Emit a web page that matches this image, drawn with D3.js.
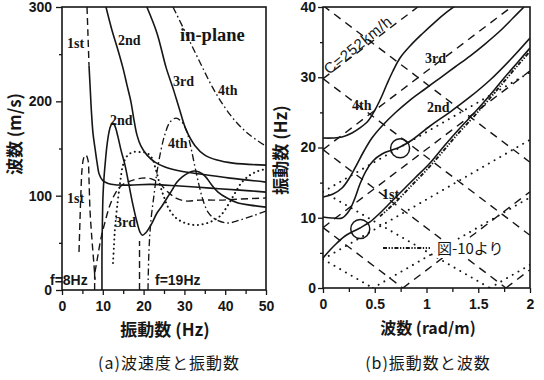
<!DOCTYPE html>
<html><head><meta charset="utf-8">
<script src="https://cdn.jsdelivr.net/npm/d3@7/dist/d3.min.js"></script>
<style>
html,body{margin:0;padding:0;background:#fff;}
svg{display:block;}
</style></head>
<body>
<svg id="chart" width="544" height="380" xmlns="http://www.w3.org/2000/svg"></svg>
<script>
// ================= DATA =================
// ---- Panel (a): velocity (m/s) vs frequency (Hz) ----
const aXTicks = [0,10,20,30,40,50];
const aXMinor = [5,15,25,35,45];
const aYTicks = [0,100,200,300];
const aYMinor = [50,150,250];

// phase-velocity curves [f, v]
const phase1Top = [[6.13,300],[6.37,270],[6.62,238]];
const phase1 = [[6.62,238],[6.9,215],[7.2,190],[7.6,166],[8.1,150],[8.6,135],[9.1,123],[10,116],[11.3,113],[13,111.5],[16.7,111.2],[21.6,112],[28.9,110.2],[36.3,108],[43.6,105.9],[50,103.8]];
const phase2 = [[10.78,300],[12.25,275.4],[13.73,254.2],[14.95,235.2],[15.93,217.2],[16.91,199.2],[17.65,180.1],[18.38,164.2],[19.36,152.5],[20.83,143],[22.79,135.6],[25.25,130.3],[28.92,126.1],[33.82,122.9],[41.18,118.6],[50,114.4]];
const phase3 = [[20.8,300],[23.3,272],[25.5,236],[27.2,214],[28.7,193],[30.4,170],[32.6,153],[35,143],[38,137.7],[41.9,134.5],[50,132.4]];
const phase4 = [[27.2,300],[30.6,270],[33.8,241.5],[37.0,214],[40.0,193],[42.9,177],[46.1,164],[50,152.5]];

// group-velocity curves [f, v]
const group1a = [[4.17,40.3],[4.41,74.2],[4.66,105.9],[4.9,127.1],[5.39,140.9],[5.88,143],[6.37,137.7],[6.62,116.5],[6.86,84.7],[7.35,53],[7.84,26.5],[8.09,10.6]];
const group1b = [[8.09,19.1],[8.82,37.1],[9.56,55.1],[10.54,72],[11.76,90],[13.24,103.8],[14.71,111.2],[16.67,115.5],[19.61,118.6],[22.06,117.6],[24.02,112.3],[25.98,103.8],[27.94,97.5],[30.39,94.3],[33.82,95.3],[38.73,95.3],[43.63,96.4],[50,97.5]];
const group2 = [[9.8,0],[9.8,42],[9.93,79],[10.05,100],[10.29,118.6],[10.66,137.7],[11.03,153.6],[11.52,167.4],[12.01,174.8],[12.5,176.9],[12.99,173.7],[13.73,162.1],[14.46,148.3],[15.44,132.4],[16.42,111.2],[17.4,90],[18.38,72],[19.12,61.4],[19.7,58],[20.5,60.5],[22.06,71],[23.28,81.6],[24.51,89],[25.74,97.5],[26.96,105.9],[28.19,114.4],[29.41,119.7],[30.88,123.9],[32.35,126.1],[33.58,125],[35.05,120.8],[36.52,112.3],[38.24,103.8],[40.44,97.5],[43.14,92.2],[46.08,90],[50,87.9]];
const group3 = [[12.5,28.6],[12.75,47.7],[12.99,65.7],[13.48,86.9],[14.22,113.3],[14.95,132.4],[15.93,141.9],[17.4,146.2],[19.12,146.2],[20.83,145.1],[22.06,139.8],[23.04,127.1],[24.02,111.2],[25,98.5],[25.98,87.9],[27.7,77.3],[30.15,71],[33.09,68.9],[36.27,72],[38.73,78.4],[40.69,90],[42.4,102.8],[44.12,114.4],[46.08,121.8],[48.04,126.1],[50,128.2]];
const group4 = [[21.08,0],[21.32,42.4],[21.81,74.2],[22.55,100.6],[23.28,125],[24.26,148.3],[25.25,165.3],[26.47,178],[27.94,182.2],[29.41,178],[30.64,167.4],[31.62,150.4],[32.6,130.3],[33.58,111.2],[34.56,95.3],[35.78,82.6],[37.5,75.2],[40.44,71],[43.63,74.2],[47.3,79.4],[50,83.7]];
const markerF8 = [[8,0],[8,22]];
const markerF19 = [[19,0],[19,52]];

// ---- Panel (b): frequency (Hz) vs wavenumber (rad/m) ----
const bXTicks = [0,0.5,1,1.5,2];
const bXLabels = ["0","0.5","1","1.5","2"];
const bXMinor = [0.25,0.75,1.25,1.75];
const bYTicks = [0,10,20,30,40];
const bYMinor = [5,15,25,35];

const mode1B = [[0,4.27],[0.068,5.41],[0.135,6.41],[0.213,7.4],[0.28,7.97],[0.357,8.54],[0.454,9.4],[0.551,10.68],[0.657,12.24],[0.773,13.95],[0.889,15.66],[1.034,17.79],[1.179,20.36],[1.324,22.78],[1.469,25.05],[1.614,27.47],[1.758,30.04],[1.884,32.17],[2.0,34.16]];
const mode2B = [[0,10.11],[0.097,9.96],[0.184,9.96],[0.251,10.96],[0.309,12.81],[0.357,14.8],[0.415,16.65],[0.483,18.08],[0.57,19.07],[0.667,19.64],[0.744,20.07],[0.86,21.07],[1.034,23.06],[1.227,25.05],[1.42,27.19],[1.614,29.61],[1.807,32.46],[2.0,35.59]];
const mode3B = [[0,12.95],[0.097,13.38],[0.184,14.23],[0.261,15.8],[0.329,17.65],[0.396,19.5],[0.473,21.35],[0.57,23.06],[0.696,24.91],[0.841,26.76],[0.986,28.33],[1.13,29.89],[1.275,31.46],[1.42,33.02],[1.565,34.73],[1.71,36.58],[1.836,38.43],[1.942,40.0]];
const mode4B = [[0,21.35],[0.097,21.35],[0.184,21.49],[0.28,22.06],[0.357,22.78],[0.435,23.77],[0.502,25.34],[0.56,27.05],[0.618,29.04],[0.676,30.89],[0.744,32.74],[0.841,34.45],[0.957,36.16],[1.082,37.86],[1.198,39.29],[1.275,40.14]];
const fig10B = [[0.55,10.2],[0.7,12.2],[0.85,14.5],[1.0,16.8],[1.15,19.3],[1.3,21.9],[1.45,24.3],[1.6,26.8],[1.75,29.4],[1.9,32.0],[2.0,33.7]];
// straight dashed lines (C = 252 km/h) as [[k1,f1],[k2,f2]]
const dashLinesB = [
  [[0,8.6],[2,30.9]], [[0,8.6],[0.772,0]], [[0.772,0],[2,13.7]],
  [[0,19.7],[1.82,40]], [[0,19.7],[1.768,0]], [[1.768,0],[2,2.6]],
  [[0,29.8],[0.916,40]], [[0,29.8],[2,7.5]], [[0,40.2],[2,17.9]]
];
// straight dotted lines
const dotLinesB = [
  [[0,4.1],[0.482,0]], [[0,4.1],[2,21.1]], [[0.482,0],[2,12.9]],
  [[0,13.7],[2,30.7]], [[0,13.7],[1.612,0]], [[1.612,0],[2,3.3]]
];
const circlesB = [[0.36,8.4],[0.745,19.9]];

// ================= DRAWING =================
const ink = '#161616';
const svg = d3.select('#chart');
svg.append('rect').attr('width',544).attr('height',380).attr('fill','#fff');

const xA = d3.scaleLinear().domain([0,50]).range([62,266]);
const yA = d3.scaleLinear().domain([0,300]).range([290,7]);
const xB = d3.scaleLinear().domain([0,2]).range([323,530]);
const yB = d3.scaleLinear().domain([0,40]).range([288,7]);

const defs = svg.append('defs');
defs.append('clipPath').attr('id','clipA').append('rect')
  .attr('x',xA(0)).attr('y',yA(300)).attr('width',xA(50)-xA(0)).attr('height',yA(0)-yA(300));
defs.append('clipPath').attr('id','clipB').append('rect')
  .attr('x',xB(0)).attr('y',yB(40)).attr('width',xB(2)-xB(0)).attr('height',yB(0)-yB(40));

const STY = {
  solid:   {w:1.6, dash:null, cap:'butt'},
  dashed:  {w:1.4, dash:'7,4', cap:'butt'},
  dotted:  {w:2.0, dash:'0.1,4.6', cap:'round'},
  dashdot: {w:1.35, dash:'7,3,1.6,3', cap:'butt'},
  bdash:   {w:1.4, dash:'8,6', cap:'butt'},
  bdot:    {w:1.9, dash:'0.1,6.5', cap:'round'},
  fig10:   {w:1.9, dash:'4,1.6,1.3,1.6,1.3,1.6', cap:'butt'}
};

function draw(g, data, xs, ys, st, curved=true){
  const line = d3.line().x(d=>xs(d[0])).y(d=>ys(d[1]));
  if(curved) line.curve(d3.curveCatmullRom.alpha(0.5));
  const s = STY[st];
  const p = g.append('path').attr('d', line(data)).attr('fill','none')
    .attr('stroke', ink).attr('stroke-width', s.w).attr('stroke-linecap', s.cap)
    .attr('stroke-linejoin','round');
  if(s.dash) p.attr('stroke-dasharray', s.dash);
  return p;
}

const tickFont = "'Liberation Sans Narrow','Liberation Sans',Arial,sans-serif";
const serifFont = "'Liberation Serif','DejaVu Serif',serif";
const cjkFont = "'Noto Sans CJK JP','Noto Sans CJK SC',sans-serif";

function styleAxis(g){
  g.select('.domain').remove();
  g.selectAll('line').attr('stroke',ink).attr('stroke-width',1.3);
  g.selectAll('text').attr('fill',ink).attr('font-family',tickFont)
    .attr('font-weight','bold').attr('font-size',14);
}

// ----- Panel (a) -----
const gA = svg.append('g');
gA.append('g').attr('transform',`translate(0,${yA(0)})`)
  .call(d3.axisBottom(xA).tickValues(aXTicks).tickSize(5).tickPadding(6)).call(styleAxis);
gA.append('g').attr('transform',`translate(0,${yA(0)})`)
  .call(d3.axisBottom(xA).tickValues(aXMinor).tickSize(4).tickFormat('')).call(styleAxis);
gA.append('g').attr('transform',`translate(${xA(0)},0)`)
  .call(d3.axisLeft(yA).tickValues(aYTicks).tickSize(6).tickPadding(4)).call(styleAxis);
gA.append('g').attr('transform',`translate(${xA(0)},0)`)
  .call(d3.axisLeft(yA).tickValues(aYMinor).tickSize(3).tickFormat('')).call(styleAxis);

const cA = gA.append('g').attr('clip-path','url(#clipA)');
draw(cA, phase1Top, xA, yA, 'dashed');
draw(cA, phase1, xA, yA, 'solid');
draw(cA, phase2, xA, yA, 'solid');
draw(cA, phase3, xA, yA, 'solid');
draw(cA, phase4, xA, yA, 'dashdot');
draw(cA, group1a, xA, yA, 'dashed');
draw(cA, group1b, xA, yA, 'dashed');
draw(cA, group2, xA, yA, 'solid');
draw(cA, group3, xA, yA, 'dotted');
draw(cA, group4, xA, yA, 'dashdot');
draw(cA, markerF8, xA, yA, 'dashed', false);
draw(cA, markerF19, xA, yA, 'dashed', false);

gA.append('rect').attr('x',xA(0)).attr('y',yA(300)).attr('width',xA(50)-xA(0)).attr('height',yA(0)-yA(300))
  .attr('fill','none').attr('stroke',ink).attr('stroke-width',1.6);

const labelsA = [
  {t:'1st', x:67, y:48}, {t:'2nd', x:118, y:45}, {t:'3rd', x:173, y:86}, {t:'4th', x:218, y:95},
  {t:'2nd', x:110, y:125}, {t:'4th', x:168, y:148}, {t:'1st', x:67, y:203}, {t:'3rd', x:115, y:227}
];
gA.selectAll('text.lab').data(labelsA).join('text').attr('class','lab')
  .attr('x',d=>d.x).attr('y',d=>d.y).text(d=>d.t)
  .attr('font-family',serifFont).attr('font-weight','bold').attr('font-size',14).attr('fill',ink);
gA.append('text').attr('x',180).attr('y',41).text('in-plane')
  .attr('font-family',serifFont).attr('font-weight','bold').attr('font-size',18.5).attr('fill',ink);
gA.append('text').attr('x',50).attr('y',285).text('f=8Hz')
  .attr('font-family',tickFont).attr('font-weight','bold').attr('font-size',14).attr('fill',ink);
gA.append('text').attr('x',155).attr('y',285).text('f=19Hz')
  .attr('font-family',tickFont).attr('font-weight','bold').attr('font-size',14).attr('fill',ink);

// axis titles (a)
gA.append('text').attr('x',165).attr('y',336).attr('text-anchor','middle')
  .attr('font-family',cjkFont).attr('font-weight','bold').attr('font-size',17).attr('fill',ink)
  .text('振動数 (Hz)');
gA.append('text').attr('transform','translate(21,134) rotate(-90)').attr('text-anchor','middle')
  .attr('font-family',cjkFont).attr('font-weight','bold').attr('font-size',17).attr('fill',ink)
  .text('波数 (m/s)');
gA.append('text').attr('x',169).attr('y',369).attr('text-anchor','middle')
  .attr('font-family',cjkFont).attr('font-size',16).attr('letter-spacing',1).attr('fill',ink)
  .text('(a)波速度と振動数');

// ----- Panel (b) -----
const gB = svg.append('g');
gB.append('g').attr('transform',`translate(0,${yB(0)})`)
  .call(d3.axisBottom(xB).tickValues(bXTicks).tickSize(5).tickPadding(6).tickFormat((d,i)=>bXLabels[i])).call(styleAxis);
gB.append('g').attr('transform',`translate(0,${yB(0)})`)
  .call(d3.axisBottom(xB).tickValues(bXMinor).tickSize(4).tickFormat('')).call(styleAxis);
gB.append('g').attr('transform',`translate(${xB(0)},0)`)
  .call(d3.axisLeft(yB).tickValues(bYTicks).tickSize(5).tickPadding(2)).call(styleAxis);
gB.append('g').attr('transform',`translate(${xB(0)},0)`)
  .call(d3.axisLeft(yB).tickValues(bYMinor).tickSize(3).tickFormat('')).call(styleAxis);

const cB = gB.append('g').attr('clip-path','url(#clipB)');
dotLinesB.forEach(s=>draw(cB, s, xB, yB, 'bdot', false));
dashLinesB.forEach(s=>draw(cB, s, xB, yB, 'bdash', false));
draw(cB, fig10B, xB, yB, 'fig10');
draw(cB, mode1B, xB, yB, 'solid');
draw(cB, mode2B, xB, yB, 'solid');
draw(cB, mode3B, xB, yB, 'solid');
draw(cB, mode4B, xB, yB, 'solid');
cB.selectAll('circle.mk').data(circlesB).join('circle').attr('class','mk')
  .attr('cx',d=>xB(d[0])).attr('cy',d=>yB(d[1])).attr('r',9.5)
  .attr('fill','none').attr('stroke',ink).attr('stroke-width',1.5);

gB.append('rect').attr('x',xB(0)).attr('y',yB(40)).attr('width',xB(2)-xB(0)).attr('height',yB(0)-yB(40))
  .attr('fill','none').attr('stroke',ink).attr('stroke-width',1.6);

const labelsB = [
  {t:'3rd', x:425, y:63}, {t:'4th', x:352, y:110}, {t:'2nd', x:427, y:112}, {t:'1st', x:382, y:199}
];
gB.selectAll('text.lab').data(labelsB).join('text').attr('class','lab')
  .attr('x',d=>d.x).attr('y',d=>d.y).text(d=>d.t)
  .attr('font-family',serifFont).attr('font-weight','bold').attr('font-size',14).attr('fill',ink);
gB.append('text').attr('transform','translate(329,75) rotate(-39)')
  .attr('font-family',"'Liberation Sans',Arial,sans-serif").attr('font-size',15).attr('letter-spacing',0.6).attr('fill',ink)
  .text('C=252km/h');

// legend (white backing so the sample text stays readable)
gB.append('rect').attr('x',435).attr('y',240).attr('width',68).attr('height',18).attr('fill','#fff');
gB.append('line').attr('x1',383).attr('x2',430).attr('y1',248).attr('y2',248)
  .attr('stroke',ink).attr('stroke-width',1.9).attr('stroke-dasharray',STY.fig10.dash);
gB.append('text').attr('x',437).attr('y',254).text('図-10より')
  .attr('font-family',cjkFont).attr('font-size',15).attr('fill',ink);

// axis titles (b)
gB.append('text').attr('x',428).attr('y',334).attr('text-anchor','middle')
  .attr('font-family',cjkFont).attr('font-weight','bold').attr('font-size',16).attr('fill',ink)
  .text('波数 (rad/m)');
gB.append('text').attr('transform','translate(287,150) rotate(-90)').attr('text-anchor','middle')
  .attr('font-family',cjkFont).attr('font-weight','bold').attr('font-size',17).attr('fill',ink)
  .text('振動数 (Hz)');
gB.append('text').attr('x',428).attr('y',369).attr('text-anchor','middle')
  .attr('font-family',cjkFont).attr('font-size',16).attr('letter-spacing',1).attr('fill',ink)
  .text('(b)振動数と波数');
</script>
</body></html>
